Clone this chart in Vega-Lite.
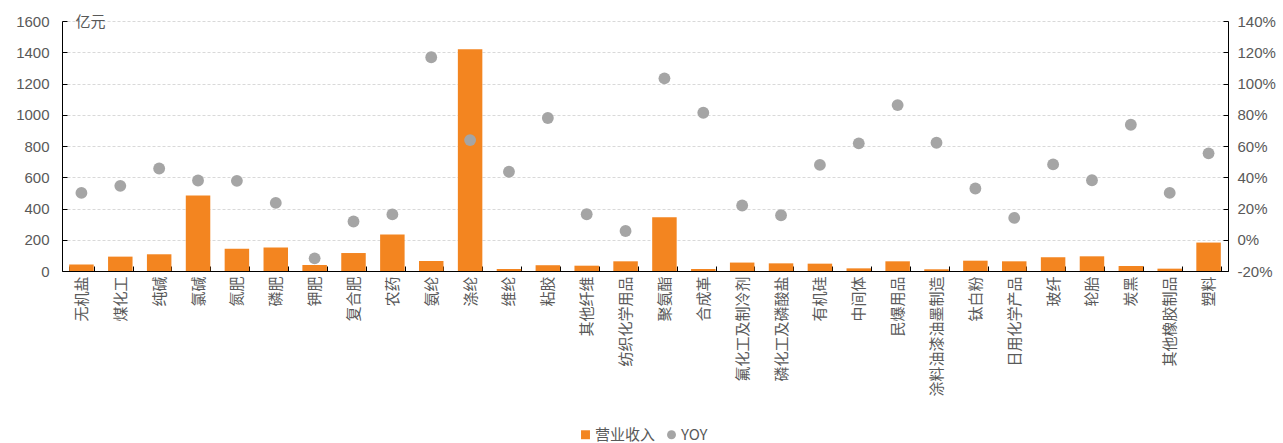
{
  "$schema": "https://vega.github.io/schema/vega-lite/v6.json",
  "width": 1166,
  "height": 250,
  "autosize": {"type": "none"},
  "padding": {"left": 62, "top": 21, "right": 55, "bottom": 172},
  "background": "white",
  "config": {
    "view": {"stroke": null},
    "axis": {
      "labelColor": "#595959",
      "labelFont": "Liberation Sans",
      "labelFontSize": 15,
      "domainColor": "#000000",
      "tickColor": "#000000",
      "domainWidth": 1,
      "tickWidth": 1
    }
  },
  "data": {
    "values": [
      {"cat": "无机盐", "rev": 41, "yoy": 0.30},
      {"cat": "煤化工", "rev": 92, "yoy": 0.345},
      {"cat": "纯碱", "rev": 107, "yoy": 0.456},
      {"cat": "氯碱", "rev": 483, "yoy": 0.379},
      {"cat": "氮肥", "rev": 143, "yoy": 0.377},
      {"cat": "磷肥", "rev": 150, "yoy": 0.236},
      {"cat": "钾肥", "rev": 38, "yoy": -0.119},
      {"cat": "复合肥", "rev": 115, "yoy": 0.117},
      {"cat": "农药", "rev": 233, "yoy": 0.162},
      {"cat": "氨纶", "rev": 64, "yoy": 1.168},
      {"cat": "涤纶", "rev": 1419, "yoy": 0.638},
      {"cat": "维纶", "rev": 13, "yoy": 0.435},
      {"cat": "粘胶", "rev": 37, "yoy": 0.779},
      {"cat": "其他纤维", "rev": 34, "yoy": 0.163},
      {"cat": "纺织化学用品", "rev": 62, "yoy": 0.056},
      {"cat": "聚氨酯", "rev": 344, "yoy": 1.033},
      {"cat": "合成革", "rev": 13, "yoy": 0.813},
      {"cat": "氟化工及制冷剂", "rev": 54, "yoy": 0.219},
      {"cat": "磷化工及磷酸盐", "rev": 49, "yoy": 0.157},
      {"cat": "有机硅", "rev": 47, "yoy": 0.479},
      {"cat": "中间体", "rev": 17, "yoy": 0.617},
      {"cat": "民爆用品", "rev": 62, "yoy": 0.862},
      {"cat": "涂料油漆油墨制造", "rev": 11, "yoy": 0.621},
      {"cat": "钛白粉", "rev": 66, "yoy": 0.328},
      {"cat": "日用化学产品", "rev": 62, "yoy": 0.14},
      {"cat": "玻纤", "rev": 88, "yoy": 0.482},
      {"cat": "轮胎", "rev": 94, "yoy": 0.381},
      {"cat": "炭黑", "rev": 32, "yoy": 0.736},
      {"cat": "其他橡胶制品", "rev": 15, "yoy": 0.30},
      {"cat": "塑料", "rev": 182, "yoy": 0.553}
    ]
  },
  "encoding": {
    "x": {
      "field": "cat",
      "type": "nominal",
      "sort": null,
      "scale": {"paddingInner": 0.37, "paddingOuter": 0.185},
      "axis": {
        "title": null,
        "labelAngle": -90,
        "labelFont": "Noto Sans CJK SC",
        "labelFontSize": 15,
        "labelPadding": 10,
        "tickBand": "extent",
        "tickSize": -5,
        "labelLimit": 200
      }
    }
  },
  "layer": [
    {
      "mark": {"type": "bar", "color": "#F38520"},
      "encoding": {
        "y": {
          "field": "rev",
          "type": "quantitative",
          "scale": {"domain": [0, 1600], "nice": false},
          "axis": {
            "values": [0, 200, 400, 600, 800, 1000, 1200, 1400, 1600],
            "format": "d",
            "title": "亿元",
            "titleAngle": 0,
            "titleAlign": "left",
            "titleBaseline": "middle",
            "titleX": 13,
            "titleY": 0,
            "titleFont": "Noto Sans CJK SC",
            "titleFontSize": 15,
            "titleFontWeight": "normal",
            "titleColor": "#595959",
            "grid": true,
            "gridColor": "#d9d9d9",
            "gridDash": [3, 2],
            "tickSize": -5,
            "labelPadding": 18
          }
        },
        "color": {
          "datum": "营业收入",
          "scale": {"domain": ["营业收入", "YOY"], "range": ["#F38520", "#A5A5A5"]},
          "legend": {
            "title": null,
            "orient": "none",
            "direction": "horizontal",
            "legendX": 516,
            "legendY": 406,
            "labelFont": "Noto Sans CJK SC",
            "labelFontSize": 15,
            "labelColor": "#595959",
            "symbolSize": 80,
            "labelOffset": 2,
            "columnPadding": 8,
            "encode": {
              "symbols": {
                "update": {
                  "shape": {"signal": "datum.value === '营业收入' ? 'square' : 'circle'"},
                  "strokeWidth": {"value": 0},
                  "opacity": {"value": 1}
                }
              }
            }
          }
        }
      }
    },
    {
      "mark": {"type": "point", "filled": true, "opacity": 1, "size": 140},
      "encoding": {
        "y": {
          "field": "yoy",
          "type": "quantitative",
          "scale": {"domain": [-0.2, 1.4], "nice": false},
          "axis": {
            "orient": "right",
            "values": [-0.2, 0, 0.2, 0.4, 0.6, 0.8, 1.0, 1.2, 1.4],
            "labelExpr": "round(datum.value*100) + '%'",
            "title": null,
            "grid": false,
            "tickSize": -5,
            "labelPadding": 14
          }
        },
        "color": {"datum": "YOY"}
      }
    }
  ],
  "resolve": {"scale": {"y": "independent"}}
}
